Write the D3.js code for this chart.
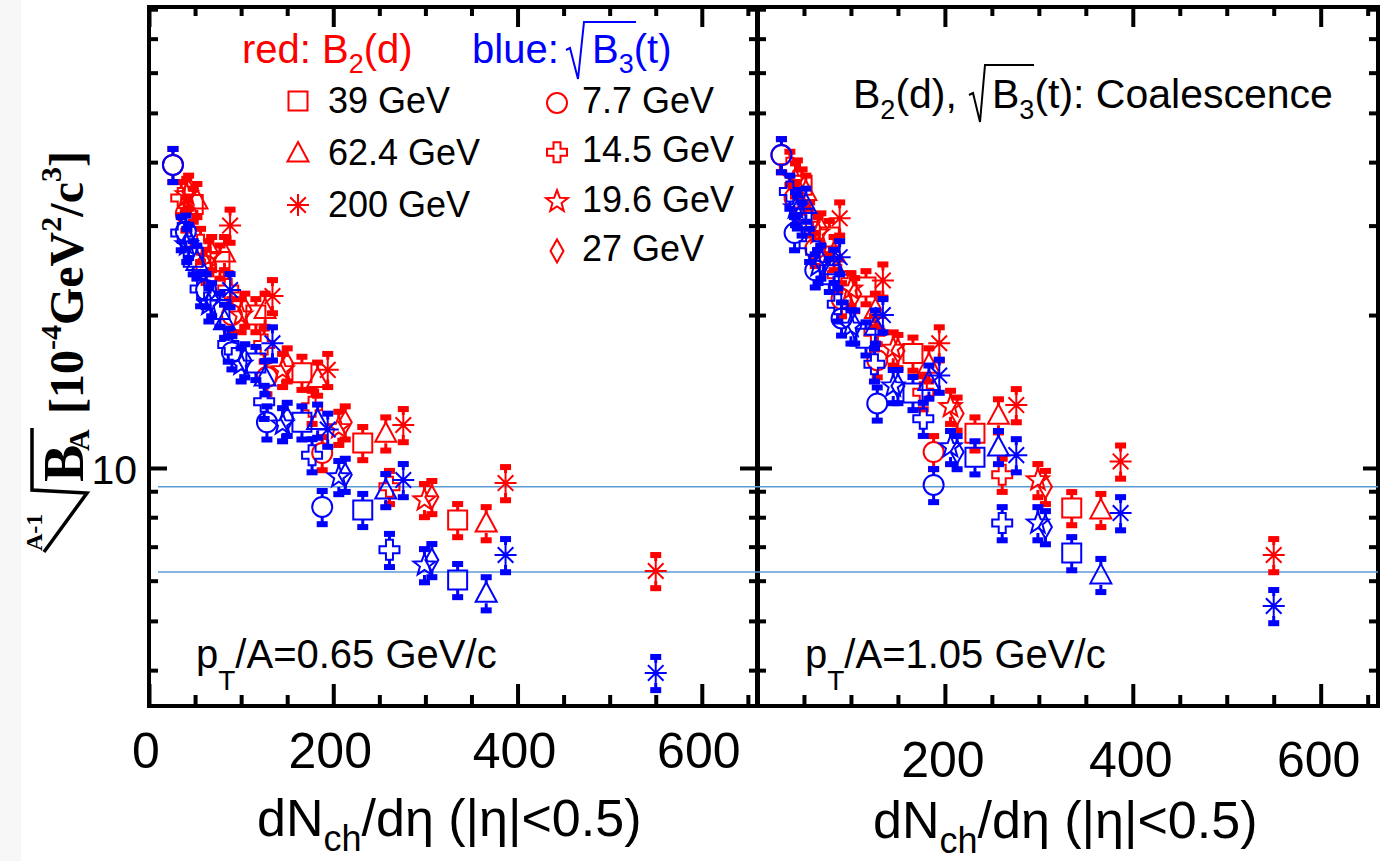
<!DOCTYPE html>
<html>
<head>
<meta charset="utf-8">
<script src="https://cdn.jsdelivr.net/npm/d3@7"></script>
<style>
body { margin: 0; background: #fff; }
</style>
</head>
<body>
<div id="plot"></div>
<script>
// collision energies (GeV) and the marker used for each
var energies = ["7.7", "14.5", "19.6", "27", "39", "62.4", "200"];
var markers = ["circle", "cross", "star", "diamond", "square", "triangle", "asterisk"];

// dNch/deta per centrality bin (central -> peripheral), one row per energy
var dNch = [
	[188, 128, 90, 62, 40, 26],
	[261, 177, 125, 86, 56, 35],
	[299, 206, 145, 100, 65, 41],
	[307, 213, 150, 104, 68, 43],
	[335, 232, 166, 116, 77, 48],
	[366, 257, 183, 126, 82, 52],
	[550, 387, 276, 194, 134, 88]
];

// pT/A = 0.65 GeV/c
var d065 = [ // B2(d), red
	[10.7, 15.1, 20.0, 25.0, 31.7, 39.5],
	[9.18, 13.2, 17.5, 22.5, 27.5, 34.0],
	[8.65, 12.0, 15.6, 20.0, 26.0, 34.5],
	[8.77, 12.3, 16.0, 20.5, 26.5, 35.0],
	[7.90, 11.2, 15.4, 20.0, 25.5, 33.0],
	[7.79, 11.7, 15.0, 20.5, 26.5, 33.7],
	[6.27, 9.34, 12.15, 15.6, 21.8, 30.0]
];
var t065 = [ // sqrt(B3(t)), blue
	[8.38, 12.3, 16.9, 22.4, 29.2, 39.5],
	[6.90, 10.6, 13.5, 17.5, 22.5, 29.0],
	[6.44, 9.6, 12.2, 16.0, 21.0, 27.5],
	[6.59, 9.7, 12.5, 16.3, 21.5, 28.0],
	[6.02, 8.27, 12.3, 16.1, 20.5, 26.0],
	[5.67, 9.05, 12.4, 15.1, 19.5, 25.5],
	[3.95, 6.74, 9.47, 11.9, 17.6, 22.4]
];

// pT/A = 1.05 GeV/c
var d105 = [
	[10.75, 16.3, 21.5, 27.0, 34.0, 41.3],
	[9.7, 14.1, 18.5, 24.0, 31.0, 39.0],
	[9.47, 13.2, 17.2, 22.5, 29.0, 37.0],
	[9.18, 12.8, 17.0, 22.0, 29.5, 37.5],
	[8.34, 11.7, 16.8, 22.7, 28.5, 36.0],
	[8.27, 12.7, 16.0, 20.5, 26.5, 35.0],
	[6.74, 10.3, 13.3, 17.6, 23.4, 31.0]
];
var t105 = [
	[9.26, 13.4, 19.7, 24.5, 29.0, 41.3],
	[7.79, 12.5, 16.0, 21.0, 27.5, 35.0],
	[7.79, 11.0, 14.5, 19.0, 25.0, 32.5],
	[7.65, 10.75, 14.5, 19.0, 25.5, 32.0],
	[6.80, 10.5, 14.05, 18.0, 24.0, 31.0],
	[6.16, 11.0, 14.8, 19.0, 25.0, 33.0],
	[5.35, 8.15, 10.6, 15.2, 20.0, 26.0]
];

// relative error bar size per energy
var relErr = [0.075, 0.075, 0.075, 0.075, 0.075, 0.075, 0.075];

// light blue horizontal guide lines
var refLines = [9.18, 6.24];

var xMajor = [0, 200, 400, 600];
var xMinor = [50, 100, 150, 250, 300, 350, 450, 500, 550, 650];
var yMajor = [10];
var yMinor = [4, 5, 6, 7, 8, 9, 20, 30, 40, 50, 60, 70, 80];

var RED = "#ff0000", BLUE = "#0000ff";
var sans = "'Liberation Sans', Arial, sans-serif";
var serif = "'Liberation Serif', 'Times New Roman', serif";

var svg = d3.select("#plot").append("svg")
	.attr("width", 1391)
	.attr("height", 861)
	.style("font-family", sans);

svg.append("rect").attr("width", 21).attr("height", 861).attr("fill", "#f7f7f7");

var yTop = 7, yBot = 706;
var yAxis = d3.scaleLog().domain([3.40, 80.8]).range([yBot, yTop]);

var panels = [
	{x0: 149, x1: 758, red: d065, blue: t065, tl: 18, tr: 18},
	{x0: 757, x1: 1378, red: d105, blue: t105, tl: 15, tr: 15}
];

function starPath(R, r) {
	var p = [];
	for (var k = 0; k < 10; k++) {
		var a = -Math.PI / 2 + k * Math.PI / 5;
		var rr = (k % 2 == 0) ? R : r;
		p.push([rr * Math.cos(a), rr * Math.sin(a)]);
	}
	return "M" + p.map(function(d) { return d[0].toFixed(2) + "," + d[1].toFixed(2); }).join("L") + "Z";
}

function symbolPath(type) {
	switch (type) {
		case "square": return "M-9.5,-9.5H9.5V9.5H-9.5Z";
		case "circle": return "M10,0A10,10 0 1,1 -10,0A10,10 0 1,1 10,0Z";
		case "triangle": return "M0,-11L10.5,8.5H-10.5Z";
		case "diamond": return "M0,-11.5L6.5,0L0,11.5L-6.5,0Z";
		case "cross": return "M-3.5,-10H3.5V-3.5H10V3.5H3.5V10H-3.5V3.5H-10V-3.5H-3.5Z";
		case "star": return starPath(11.5, 4.8);
		case "asterisk": return "M0,-11V11M-11,0H11M-7.8,-7.8L7.8,7.8M-7.8,7.8L7.8,-7.8";
	}
}

function styleTicks(g) {
	g.select(".domain").remove();
	g.selectAll(".tick line").attr("stroke", "black").attr("stroke-width", 4);
}

panels.forEach(function(p, pi) {
	var xAxis = d3.scaleLinear().domain([0, 661]).range([p.x0, p.x1]);
	p.x = xAxis;

	// ticks (all pointing inward)
	[[xMajor, 22], [xMinor, 11]].forEach(function(t) {
		svg.append("g").attr("transform", "translate(0," + yBot + ")")
			.call(d3.axisBottom(xAxis).tickValues(t[0]).tickSize(-t[1]).tickFormat(""))
			.call(styleTicks);
		svg.append("g").attr("transform", "translate(0," + yTop + ")")
			.call(d3.axisTop(xAxis).tickValues(t[0]).tickSize(-t[1] + 2).tickFormat(""))
			.call(styleTicks);
	});
	[[yMajor, p.tl, p.tr], [yMinor, 9, 9]].forEach(function(t) {
		svg.append("g").attr("transform", "translate(" + p.x0 + ",0)")
			.call(d3.axisLeft(yAxis).tickValues(t[0]).tickSize(-t[1]).tickFormat(""))
			.call(styleTicks);
		svg.append("g").attr("transform", "translate(" + p.x1 + ",0)")
			.call(d3.axisRight(yAxis).tickValues(t[0]).tickSize(-t[2]).tickFormat(""))
			.call(styleTicks);
	});

	svg.append("rect")
		.attr("x", p.x0).attr("y", yTop)
		.attr("width", p.x1 - p.x0).attr("height", yBot - yTop)
		.attr("fill", "none").attr("stroke", "black").attr("stroke-width", 4);

	// x tick labels
	svg.append("g").selectAll("text")
		.data(pi == 0 ? xMajor : xMajor.slice(1))
		.enter().append("text")
		.attr("x", function(d) { return xAxis(d) - (pi == 0 ? 3 : 2); })
		.attr("y", pi == 0 ? 768 : 777)
		.attr("text-anchor", "middle")
		.style("font-size", "50px")
		.text(function(d) { return d; });

	// x title
	var tt = svg.append("text")
		.attr("x", pi == 0 ? 257 : 873)
		.attr("y", pi == 0 ? 836 : 838)
		.style("font-size", "52px");
	tt.append("tspan").text("dN");
	tt.append("tspan").attr("dy", 15).style("font-size", "36px").text("ch");
	tt.append("tspan").attr("dy", -15).text("/d\u03b7 (|\u03b7|<0.5)");
});

// guide lines across both panels
svg.append("g").selectAll("line")
	.data(refLines)
	.enter().append("line")
	.attr("x1", 158).attr("x2", 1378)
	.attr("y1", function(d) { return yAxis(d); })
	.attr("y2", function(d) { return yAxis(d); })
	.attr("stroke", "#5b9bd5").attr("stroke-width", 1.5);

// data points with error bars
panels.forEach(function(p) {
	[[p.red, RED], [p.blue, BLUE]].forEach(function(s) {
		var pts = [];
		s[0].forEach(function(row, i) {
			row.forEach(function(v, j) {
				pts.push({x: dNch[i][j], y: v, e: relErr[i], m: markers[i]});
			});
		});
		var g = svg.append("g");
		var pg = g.selectAll("g").data(pts).enter().append("g")
			.attr("transform", function(d) { return "translate(" + p.x(d.x) + "," + yAxis(d.y) + ")"; });
		pg.append("path")
			.attr("d", function(d) {
				var c = yAxis(d.y), hi = yAxis(d.y * (1 + d.e)) - c, lo = yAxis(d.y * (1 - d.e)) - c;
				return "M0," + hi + "V-10M0,10V" + lo;
			})
			.attr("stroke", s[1]).attr("stroke-width", 3);
		pg.append("rect")
			.attr("x", -5.5).attr("width", 11).attr("height", 6)
			.attr("y", function(d) { return yAxis(d.y * (1 + d.e)) - yAxis(d.y) - 3; })
			.attr("fill", s[1]);
		pg.append("rect")
			.attr("x", -5.5).attr("width", 11).attr("height", 6)
			.attr("y", function(d) { return yAxis(d.y * (1 - d.e)) - yAxis(d.y) - 3; })
			.attr("fill", s[1]);
		pg.append("path")
			.attr("d", function(d) { return symbolPath(d.m); })
			.attr("fill", "none").attr("stroke", s[1]).attr("stroke-width", 2);
	});
});

// y tick label
svg.append("text").attr("x", 137).attr("y", 484).attr("text-anchor", "end")
	.style("font-size", "41px").text("10");

// y axis title (rotated)
var yl = svg.append("g").attr("transform", "rotate(-90)")
	.style("font-family", serif).style("font-weight", "bold");
yl.append("text").attr("x", -551).attr("y", 42).style("font-size", "24px").text("A-1");
yl.append("text").attr("x", -482).attr("y", 83).style("font-size", "56px").text("B");
yl.append("text").attr("x", -451).attr("y", 89).style("font-size", "30px").text("A");
var yt = yl.append("text").attr("x", -414).attr("y", 83).style("font-size", "48px");
yt.append("tspan").text("[10");
yt.append("tspan").attr("dy", -22).style("font-size", "30px").text("-4");
yt.append("tspan").attr("dy", 22).text("GeV");
yt.append("tspan").attr("dy", -22).style("font-size", "30px").text("2");
yt.append("tspan").attr("dy", 22).text("/c");
yt.append("tspan").attr("dy", -22).style("font-size", "30px").text("3");
yt.append("tspan").attr("dy", 22).text("]");
svg.append("path").attr("d", "M44,552L87,493L32,490L32,428")
	.attr("fill", "none").attr("stroke", "black").attr("stroke-width", 3.5);

// legend header
var h1 = svg.append("text").attr("x", 242).attr("y", 63).attr("fill", RED).style("font-size", "40px");
h1.append("tspan").text("red: B");
h1.append("tspan").attr("dy", 10).style("font-size", "27px").text("2");
h1.append("tspan").attr("dy", -10).text("(d)");
svg.append("text").attr("x", 472).attr("y", 63).attr("fill", BLUE).style("font-size", "40px").text("blue:");
svg.append("path").attr("d", "M566,50L570,48L578,79L584,22L636,22")
	.attr("fill", "none").attr("stroke", BLUE).attr("stroke-width", 2);
var h2 = svg.append("text").attr("x", 592).attr("y", 63).attr("fill", BLUE).style("font-size", "40px");
h2.append("tspan").text("B");
h2.append("tspan").attr("dy", 10).style("font-size", "27px").text("3");
h2.append("tspan").attr("dy", -10).text("(t)");

// legend entries
var legLeft = [4, 5, 6];
var legRight = [0, 1, 2, 3];
var lg = svg.append("g");
legLeft.forEach(function(i, k) {
	lg.append("path").attr("transform", "translate(298," + (101 + 52 * k) + ")")
		.attr("d", symbolPath(markers[i])).attr("fill", "none").attr("stroke", RED).attr("stroke-width", 2);
	lg.append("text").attr("x", 328).attr("y", 113 + 52 * k).style("font-size", "36px").text(energies[i] + " GeV");
});
legRight.forEach(function(i, k) {
	lg.append("path").attr("transform", "translate(557," + (103 + 49.3 * k) + ")")
		.attr("d", symbolPath(markers[i])).attr("fill", "none").attr("stroke", RED).attr("stroke-width", 2);
	lg.append("text").attr("x", 582).attr("y", 113 + 49.3 * k).style("font-size", "36px").text(energies[i] + " GeV");
});

// right panel annotation
var a1 = svg.append("text").attr("x", 853).attr("y", 108).style("font-size", "41px");
a1.append("tspan").text("B");
a1.append("tspan").attr("dy", 11).style("font-size", "27px").text("2");
a1.append("tspan").attr("dy", -11).text("(d),");
svg.append("path").attr("d", "M969,95L973,93L980,122L985,65L1034,65")
	.attr("fill", "none").attr("stroke", "black").attr("stroke-width", 2);
var a2 = svg.append("text").attr("x", 992).attr("y", 108).style("font-size", "41px");
a2.append("tspan").text("B");
a2.append("tspan").attr("dy", 11).style("font-size", "27px").text("3");
a2.append("tspan").attr("dy", -11).text("(t): Coalescence");

// pT/A labels
[[196, "0.65"], [805, "1.05"]].forEach(function(d) {
	var t = svg.append("text").attr("x", d[0]).attr("y", 668).style("font-size", "40px");
	t.append("tspan").text("p");
	t.append("tspan").attr("dy", 22).style("font-size", "28px").text("T");
	t.append("tspan").attr("dy", -22).text("/A=" + d[1] + " GeV/c");
});
</script>
</body>
</html>
